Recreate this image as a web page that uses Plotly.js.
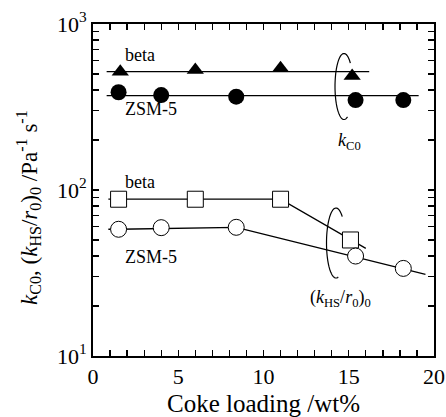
<!DOCTYPE html>
<html>
<head>
<meta charset="utf-8">
<script src="https://cdn.plot.ly/plotly-3.0.1.min.js"></script>
<style>html,body{margin:0;padding:0;background:#fff;}#chart{width:446px;height:417px;}</style>
</head>
<body>
<div id="chart"></div>
<script>
// ---- data ----
const betaKC0X = [1.6, 6.0, 11.0, 15.2];
const betaKC0Y = [516, 528, 541, 486];
const betaKC0LineX = [0.8, 16.2];
const betaKC0LineY = [516, 516];

const zsmKC0X = [1.5, 4.0, 8.4, 15.4, 18.2];
const zsmKC0Y = [388, 373, 365, 348, 348];
const zsmKC0LineX = [0.8, 19.1];
const zsmKC0LineY = [370, 370];

const betaKHSX = [1.5, 6.0, 11.0, 15.1];
const betaKHSY = [88, 88, 88, 50];
const betaKHSLineX = [0.9, 11.0, 16.0];
const betaKHSLineY = [88, 88, 44.5];

const zsmKHSX = [1.5, 4.0, 8.4, 15.4, 18.2];
const zsmKHSY = [58, 59.3, 59.6, 40, 33.7];
const zsmKHSLineX = [0.9, 1.5, 8.4, 19.5];
const zsmKHSLineY = [58, 58, 59.6, 31];

const xTickVals = [0, 5, 10, 15, 20];
const xTickText = ['0', '5', '10', '15', '20'];
const xMinorVals = [1,2,3,4,6,7,8,9,11,12,13,14,16,17,18,19];
const yTickVals = [10, 100, 1000];
const yTickText = ['10<sup>1</sup>', '10<sup>2</sup>', '10<sup>3</sup>'];
const yMinorVals = [20,30,40,50,60,70,80,90,200,300,400,500,600,700,800,900];

const xTitle = 'Coke loading /wt%';
const yTitle = '<i>k</i><sub>C0</sub>, (<i>k</i><sub>HS</sub>/<i>r</i><sub>0</sub>)<sub>0</sub> /Pa<sup>-1</sup> s<sup>-1</sup>';

// ---- layout helpers ----
const FONT = 'Liberation Serif';
const L = 93, R = 434, T = 24, B = 356;
function px2paper(px, py){ return [(px - L)/(R - L), (B - py)/(B - T)]; }
function arcPath(cx, cy, rx, ry, a0, a1){
  let d = '';
  const n = 60;
  for (let i = 0; i <= n; i++){
    const a = (a0 + (a1 - a0) * i / n) * Math.PI / 180;
    const p = px2paper(cx + rx*Math.cos(a), cy + ry*Math.sin(a));
    d += (i === 0 ? 'M ' : ' L ') + p[0].toFixed(4) + ',' + p[1].toFixed(4);
  }
  return d;
}

const lineStyle = {color:'black', width:1.3};
const traces = [
  {x: betaKC0LineX, y: betaKC0LineY, mode:'lines', line: lineStyle, hoverinfo:'skip'},
  {x: zsmKC0LineX, y: zsmKC0LineY, mode:'lines', line: lineStyle, hoverinfo:'skip'},
  {x: betaKHSLineX, y: betaKHSLineY, mode:'lines', line: lineStyle, hoverinfo:'skip'},
  {x: zsmKHSLineX, y: zsmKHSLineY, mode:'lines', line: lineStyle, hoverinfo:'skip'},
  {x: betaKC0X, y: betaKC0Y, mode:'markers', marker:{symbol:'triangle-up', size:15, color:'black'}},
  {x: zsmKC0X, y: zsmKC0Y, mode:'markers', marker:{symbol:'circle', size:16, color:'black'}},
  {x: betaKHSX, y: betaKHSY, mode:'markers', marker:{symbol:'square', size:16, color:'white', line:{color:'black', width:1}}},
  {x: zsmKHSX, y: zsmKHSY, mode:'markers', marker:{symbol:'circle', size:16, color:'white', line:{color:'black', width:1}}}
];

function ann(px, py, text, size, angle){
  const p = px2paper(px, py);
  return {xref:'paper', yref:'paper', x:p[0], y:p[1], text:text, showarrow:false,
          textangle: angle || 0,
          xanchor:'center', yanchor:'middle', font:{family:FONT, size:size||18, color:'black'}};
}

const layout = {
  width:446, height:417,
  margin:{l:L, r:446-R, t:T, b:417-B},
  paper_bgcolor:'white', plot_bgcolor:'white',
  showlegend:false,
  font:{family:FONT, color:'black'},
  xaxis:{
    range:[0,20], tickmode:'array', tickvals:xTickVals, ticktext:xTickText,
    ticks:'inside', ticklen:6, tickwidth:1.3, tickcolor:'black',
    minor:{tickmode:'array', tickvals:xMinorVals, ticks:'inside', ticklen:6, tickwidth:1.3, tickcolor:'black', showgrid:false},
    showline:true, linecolor:'black', linewidth:2, mirror:'allticks',
    showgrid:false, zeroline:false,
    tickfont:{family:FONT, size:22, color:'black'},
    title:{text:xTitle, font:{family:FONT, size:25, color:'black'}, standoff:6}
  },
  yaxis:{
    type:'log', range:[1,3], tickmode:'array', tickvals:yTickVals, ticktext:yTickText,
    ticks:'inside', ticklen:6, tickwidth:1.3, tickcolor:'black',
    minor:{tickmode:'array', tickvals:yMinorVals, ticks:'inside', ticklen:6, tickwidth:1.3, tickcolor:'black', showgrid:false},
    showline:true, linecolor:'black', linewidth:2, mirror:'allticks',
    showgrid:false, zeroline:false,
    tickfont:{family:FONT, size:22, color:'black'}
  },
  annotations:[
    ann(28, 208, yTitle, 23, -90),
    ann(140, 55, 'beta'),
    ann(151, 109, 'ZSM-5'),
    ann(140, 182, 'beta'),
    ann(151, 257, 'ZSM-5'),
    ann(349, 141, '<i>k</i><sub>C0</sub>', 18),
    ann(340, 298, '(<i>k</i><sub>HS</sub>/<i>r</i><sub>0</sub>)<sub>0</sub>', 18)
  ],
  shapes:[
    {type:'path', xref:'paper', yref:'paper', path: arcPath(344, 86.5, 9, 33, -45, -293), line:{color:'black', width:1.2}},
    {type:'path', xref:'paper', yref:'paper', path: arcPath(336, 243, 9.5, 35, -49, -284), line:{color:'black', width:1.2}}
  ]
};

Plotly.newPlot('chart', traces, layout, {staticPlot:true, displayModeBar:false});
</script>
</body>
</html>
